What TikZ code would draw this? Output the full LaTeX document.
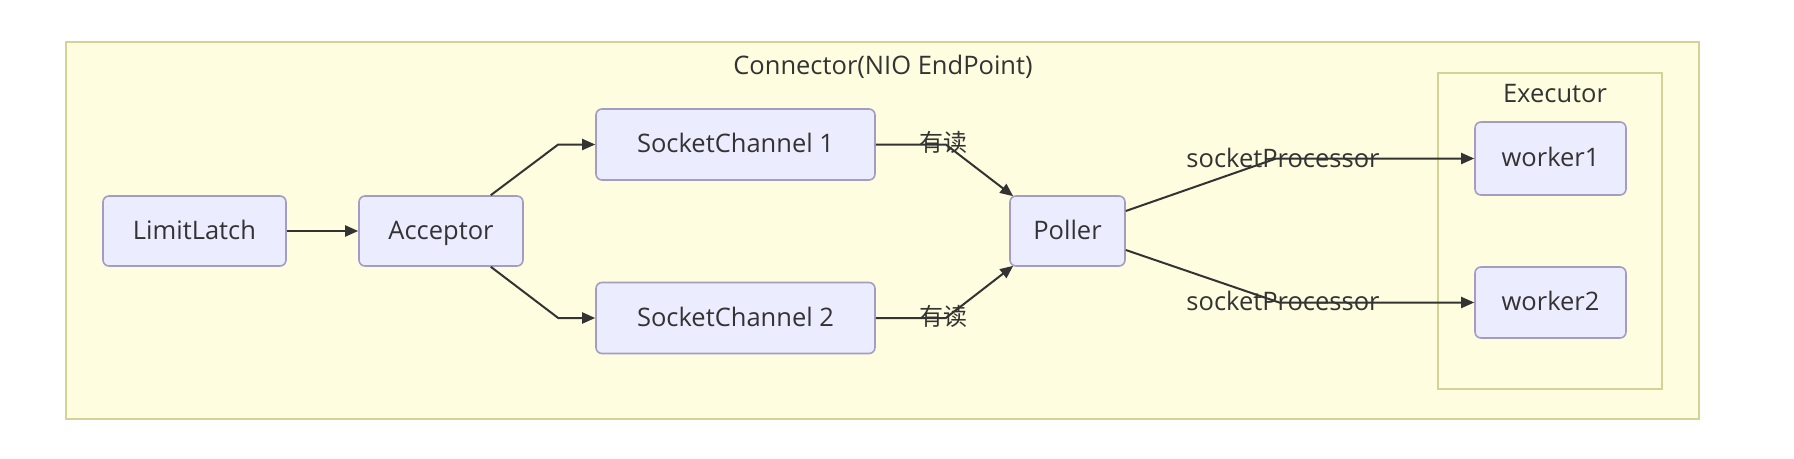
\documentclass[tikz,border=0pt]{standalone}
\usepackage{fontspec}
\setmainfont{Open Sans}
\newfontfamily\cjk{Noto Sans CJK SC}
\usetikzlibrary{arrows.meta,calc}
\definecolor{clfill}{HTML}{FFFDDF}
\definecolor{cldraw}{HTML}{D3D396}
\definecolor{ndfill}{HTML}{ECECFF}
\definecolor{nddraw}{HTML}{A39DC6}
\definecolor{txt}{HTML}{333333}
\begin{document}
\begin{tikzpicture}[x=1pt,y=-1pt,
  font=\fontsize{25.5}{30}\selectfont, text=txt,
  box/.style={draw=nddraw, fill=ndfill, rounded corners=6pt, line width=1.6pt,
    minimum height=70pt, inner sep=0pt, text height=19pt, text depth=3pt},
  cluster/.style={draw=cldraw, fill=clfill, line width=2pt, inner sep=0pt},
  conn/.style={draw=txt, line width=2pt, -{Triangle[length=13pt,width=11pt]}},
  lbl/.style={inner sep=0pt},
  cjklbl/.style={inner sep=0pt, font=\cjk\fontsize{24}{28}\selectfont}]
\useasboundingbox[fill=white] (0,0) rectangle (1794,458);
% clusters
\node[cluster, minimum width=1633pt, minimum height=377pt] (connector) at (882.5,230.5) {};
\node[lbl, anchor=base] (conntitle) at (883,74) {Connector(NIO EndPoint)};
\node[cluster, minimum width=224pt, minimum height=316pt] (executor) at (1550,231) {};
\node[lbl, anchor=base] (exectitle) at (1555,102) {Executor};
% nodes
\node[box, minimum width=183pt] (ll) at (194.5,231) {LimitLatch};
\node[box, minimum width=164pt] (acc) at (441,231) {Acceptor};
\node[box, minimum width=279pt, minimum height=71pt] (sc1) at (735.5,144.5) {SocketChannel 1};
\node[box, minimum width=279pt, minimum height=71pt] (sc2) at (735.5,318) {SocketChannel 2};
\node[box, minimum width=115pt] (poller) at (1067.5,231) {Poller};
\node[box, minimum width=151pt, minimum height=73pt] (w1) at (1550.5,158.5) {worker1};
\node[box, minimum width=151pt, minimum height=71pt] (w2) at (1550.5,302.5) {worker2};
% labels
\node[cjklbl] (r1) at (943,142) {有读};
\node[cjklbl] (r2) at (943,316) {有读};
\node[lbl] (sp1) at (1283,158) {socketProcessor};
\node[lbl] (sp2) at (1283,301) {socketProcessor};
% connectors
\draw[conn] (ll) -- (acc);
\draw[conn] ([xshift=-33pt]acc.north east) -- ($(sc1.west)+(-37,0)$) -- (sc1.west);
\draw[conn] ([xshift=-33pt]acc.south east) -- ($(sc2.west)+(-37,0)$) -- (sc2.west);
\draw[conn] (sc1.east) -- ($(sc1.east)+(70,0)$) -- ([xshift=4pt,yshift=-1pt]poller.north west);
\draw[conn] (sc2.east) -- ($(sc2.east)+(70,0)$) -- ([xshift=4pt,yshift=1pt]poller.south west);
\draw[conn] ([yshift=20pt]poller.east) -- ($(w1.west)+(-198,0)$) -- (w1.west);
\draw[conn] ([yshift=-19pt]poller.east) -- ($(w2.west)+(-195,0)$) -- (w2.west);
\end{tikzpicture}
\end{document}
